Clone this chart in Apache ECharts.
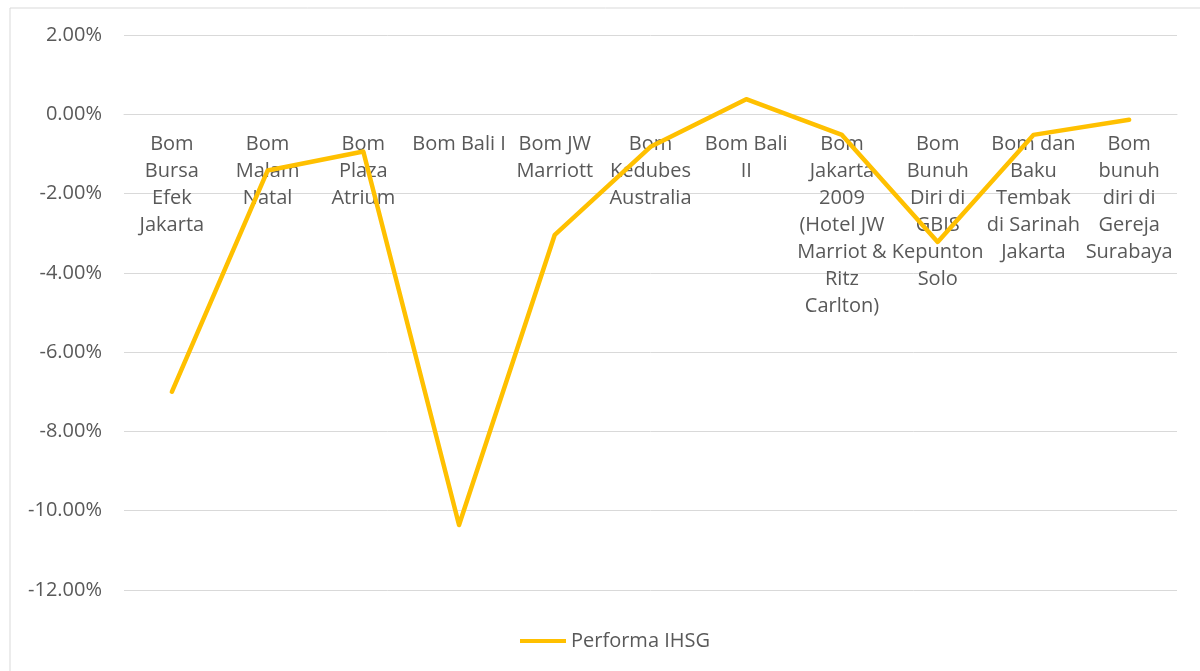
<!DOCTYPE html>
<html>
<head>
<meta charset="utf-8">
<title>Performa IHSG</title>
<script src="https://cdn.jsdelivr.net/npm/echarts@6/dist/echarts.min.js"></script>
<style>
  html, body { margin: 0; padding: 0; background: #fff; }
  #chart { width: 1200px; height: 671px; }
</style>
</head>
<body>
<div id="chart"></div>
<script>
// kategori peristiwa (baris dipisah seperti di gambar asli)
const categories = [
  'Bom\nBursa\nEfek\nJakarta',
  'Bom\nMalam\nNatal',
  'Bom\nPlaza\nAtrium',
  'Bom Bali I',
  'Bom JW\nMarriott',
  'Bom\nKedubes\nAustralia',
  'Bom Bali\nII',
  'Bom\nJakarta\n2009\n(Hotel JW\nMarriot &\nRitz\nCarlton)',
  'Bom\nBunuh\nDiri di\nGBIS\nKepunton\nSolo',
  'Bom dan\nBaku\nTembak\ndi Sarinah\nJakarta',
  'Bom\nbunuh\ndiri di\nGereja\nSurabaya'
];

// performa IHSG dalam persen
const ihsg = [-7.00, -1.42, -0.94, -10.36, -3.04, -0.82, 0.38, -0.52, -3.22, -0.52, -0.14];

const yMin = -12;
const yMax = 2;
const yStep = 2;

const gridTop = 35;
const gridBottom = 81;
const plotH = 671 - gridTop - gridBottom;
// geser sumbu kategori ke garis 0% (seperti Excel)
const zeroOffset = -plotH * (0 - yMin) / (yMax - yMin);

const chart = echarts.init(document.getElementById('chart'));

const textColor = '#595959';
const fontFamily = 'Open Sans, sans-serif';

chart.setOption({
  animation: false,
  graphic: [{
    type: 'rect',
    shape: { x: 10, y: 8, width: 1200, height: 680 },
    style: { fill: 'none', stroke: '#d9d9d9', lineWidth: 1 },
    silent: true
  }],
  grid: {
    left: 124,
    right: 23,
    top: gridTop,
    bottom: gridBottom,
    containLabel: false,
    outerBoundsMode: 'none'
  },
  legend: {
    top: 626,
    left: 515,
    icon: 'rect',
    itemWidth: 46,
    itemHeight: 4,
    itemGap: 4,
    textStyle: { color: textColor, fontSize: 20, fontFamily: fontFamily },
    data: ['Performa IHSG']
  },
  xAxis: {
    type: 'category',
    data: categories,
    boundaryGap: true,
    position: 'bottom',
    offset: zeroOffset,
    axisLine: { onZero: false, lineStyle: { color: '#d9d9d9' } },
    axisTick: { show: false },
    axisLabel: {
      interval: 0,
      color: textColor,
      fontSize: 20,
      fontFamily: fontFamily,
      lineHeight: 27,
      margin: 17
    }
  },
  yAxis: {
    type: 'value',
    min: yMin,
    max: yMax,
    interval: yStep,
    axisLine: { show: false },
    axisTick: { show: false },
    splitLine: { lineStyle: { color: '#d9d9d9' } },
    axisLabel: {
      color: textColor,
      fontSize: 20,
      fontFamily: fontFamily,
      margin: 22,
      formatter: v => v.toFixed(2) + '%'
    }
  },
  series: [{
    name: 'Performa IHSG',
    type: 'line',
    data: ihsg,
    showSymbol: false,
    symbol: 'none',
    z: 3,
    itemStyle: { color: '#FFC000' },
    lineStyle: { color: '#FFC000', width: 4.5, join: 'round', cap: 'round' }
  }]
});
</script>
</body>
</html>
